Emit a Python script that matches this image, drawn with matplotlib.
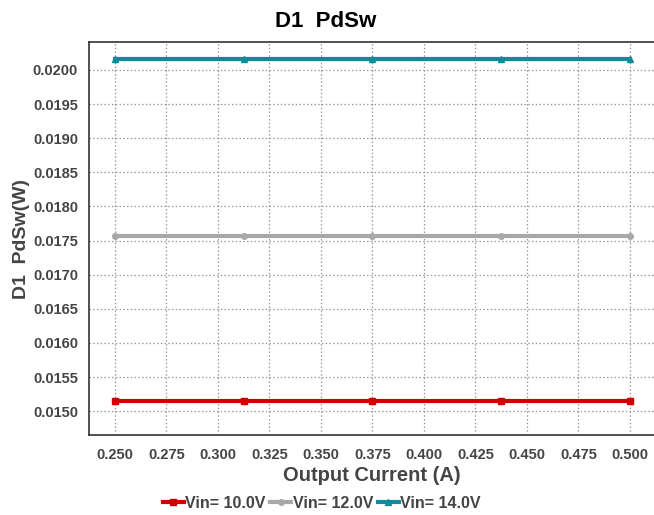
import matplotlib
matplotlib.use('Agg')
import matplotlib.pyplot as plt
from matplotlib.ticker import MultipleLocator, FormatStrFormatter

# data
current = [0.25, 0.3125, 0.375, 0.4375, 0.5]
vin10 = [0.01515, 0.01515, 0.01515, 0.01515, 0.01515]
vin12 = [0.01757, 0.01757, 0.01757, 0.01757, 0.01757]
vin14 = [0.02016, 0.02016, 0.02016, 0.02016, 0.02016]
labels = ['Vin= 10.0V', 'Vin= 12.0V', 'Vin= 14.0V']

plt.rcParams['font.family'] = ['Liberation Sans', 'DejaVu Sans']

fig = plt.figure(figsize=(6.54, 5.15), dpi=100)
ax = fig.add_axes([0.1361, 0.1553, 0.8639, 0.7631])

ax.plot(current, vin10, color='#CC0000', lw=3, marker='s', ms=5, label=labels[0])
ax.plot(current, vin12, color='#A8A8A8', lw=3, marker='o', ms=4, label=labels[1])
ax.plot(current, vin14, color='#138A9A', lw=3, marker='^', ms=5, label=labels[2])

ax.set_xlim(0.2374, 0.5117)
ax.set_ylim(0.01465, 0.02041)
ax.xaxis.set_major_locator(MultipleLocator(0.025))
ax.yaxis.set_major_locator(MultipleLocator(0.0005))
ax.xaxis.set_major_formatter(FormatStrFormatter('%.3f'))
ax.yaxis.set_major_formatter(FormatStrFormatter('%.4f'))
ax.grid(True, color='#999999', ls=(0, (1.2, 1.8)), lw=0.9)
ax.tick_params(length=0, labelsize=10.5, labelcolor='#444444')
ax.tick_params(axis='x', pad=9)
ax.tick_params(axis='y', pad=8)
for t in ax.get_xticklabels() + ax.get_yticklabels():
    t.set_fontweight('bold')
ax.spines['right'].set_visible(False)
for s in ['left', 'bottom', 'top']:
    ax.spines[s].set_color('#333333')
    ax.spines[s].set_linewidth(1.2)

ax.set_title('D1  PdSw', fontsize=16, fontweight='bold', pad=11, x=0.418)
ax.set_xlabel('Output Current (A)', fontsize=14.5, fontweight='bold', color='#444444', labelpad=3)
ax.set_ylabel('D1  PdSw(W)', fontsize=14, fontweight='bold', color='#444444', labelpad=2)

leg = fig.legend(loc='center', bbox_to_anchor=(0.492, 0.023), ncol=3, frameon=False,
                 handlelength=1.3, handletextpad=0.1, columnspacing=0.3,
                 prop={'weight': 'bold', 'size': 11.5})
for t in leg.get_texts():
    t.set_color('#444444')

plt.savefig('out.png')
